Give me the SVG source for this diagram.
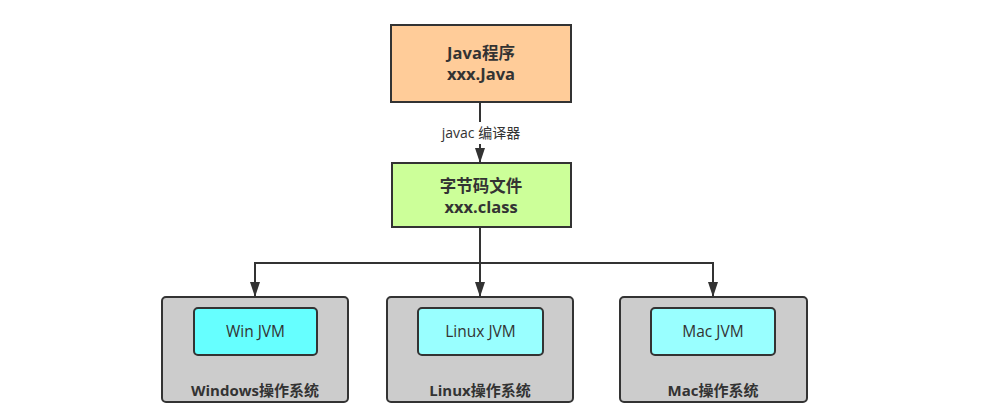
<svg xmlns="http://www.w3.org/2000/svg" width="992" height="418" viewBox="0 0 992 418">
<style>
.box{stroke:#333;stroke-width:2}
.t{font-family:"Open Sans","Noto Sans CJK SC",sans-serif;fill:#333;text-anchor:middle}
.b{font-weight:bold;font-size:16.500px}
.os{font-weight:bold;font-size:15px}
.j{font-size:15.500px}
.c{fill:none;stroke:#333;stroke-width:2}
</style>
<defs>
<marker id="ar" viewBox="0 0 15 10" refX="14" refY="5" markerWidth="15" markerHeight="10" orient="auto" markerUnits="userSpaceOnUse">
<path d="M0,0 L15,5 L0,10 z" fill="#333"/>
</marker>
</defs>
<rect width="992" height="418" fill="#fff"/>
<g id="connectors">
<path class="c" d="M480,102 V162" marker-end="url(#ar)"/>
<rect x="430" y="122" width="100" height="22" fill="#fff"/>
<text class="t" x="481" y="138" font-size="14">javac 编译器</text>
<path class="c" d="M480,227 V296" marker-end="url(#ar)"/>
<path class="c" d="M480,263 H255 V296" marker-end="url(#ar)"/>
<path class="c" d="M480,263 H713 V296" marker-end="url(#ar)"/>
</g>
<g id="java">
<rect class="box" x="391" y="25" width="180" height="77" fill="#FFCC99"/>
<text class="t b" x="481" y="59">Java程序</text>
<text class="t b" x="481" y="80">xxx.Java</text>
</g>
<g id="bytecode">
<rect class="box" x="392" y="163" width="179" height="64" fill="#CCFF99"/>
<text class="t b" x="481" y="192">字节码文件</text>
<text class="t b" x="481" y="213">xxx.class</text>
</g>
<g id="windows">
<rect class="box" x="162" y="297" width="186" height="105" rx="4" fill="#CCCCCC"/>
<rect class="box" x="194" y="308" width="123" height="47" rx="4" fill="#66FFFF"/>
<text class="t j" x="255.500" y="337">Win JVM</text>
<text class="t os" x="255" y="396">Windows操作系统</text>
</g>
<g id="linux">
<rect class="box" x="387" y="297" width="186" height="105" rx="4" fill="#CCCCCC"/>
<rect class="box" x="418" y="308" width="125" height="47" rx="4" fill="#99FFFF"/>
<text class="t j" x="480.500" y="337">Linux JVM</text>
<text class="t os" x="480" y="396">Linux操作系统</text>
</g>
<g id="mac">
<rect class="box" x="620" y="297" width="187" height="105" rx="4" fill="#CCCCCC"/>
<rect class="box" x="651" y="308" width="124" height="47" rx="4" fill="#99FFFF"/>
<text class="t j" x="713" y="337">Mac JVM</text>
<text class="t os" x="713" y="396">Mac操作系统</text>
</g>
</svg>
